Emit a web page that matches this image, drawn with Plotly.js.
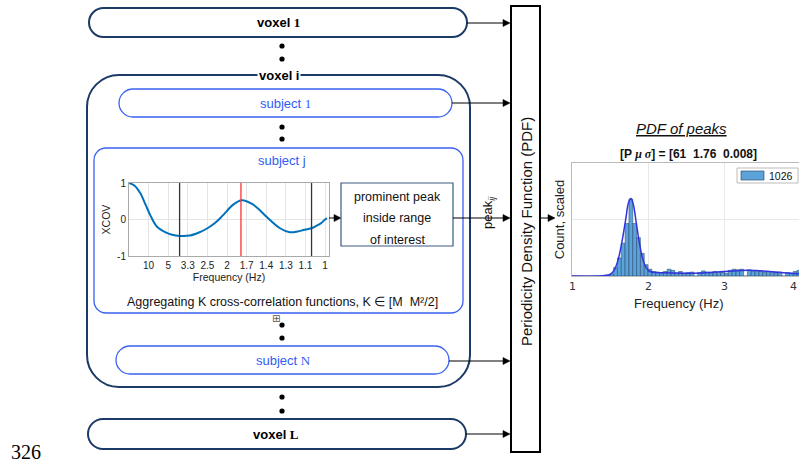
<!DOCTYPE html>
<html>
<head>
<meta charset="utf-8">
<script src="https://cdn.plot.ly/plotly-3.0.1.min.js"></script>
<style>html,body{margin:0;padding:0;background:#fff;}#chart{width:799px;height:463px;}</style>
</head>
<body>
<div id="chart"></div>
<script>
// ---------- XCOV panel data ----------
const lagSec = [0,0.03,0.058,0.085,0.11,0.143,0.19,0.22,0.26,0.31,0.36,0.40,0.44,0.48,0.53,0.575,0.63,0.67,0.70,0.77,0.82,0.86,0.89,0.93,0.96,0.98,1.0,1.01];
const xcovVals = [1,0.92,0.72,0.4,0.1,-0.2,-0.36,-0.42,-0.45,-0.44,-0.35,-0.24,-0.09,0.12,0.4,0.53,0.42,0.24,0.08,-0.24,-0.35,-0.33,-0.29,-0.24,-0.16,-0.1,0.0,0.03];
const xcovTickVals = [0.1,0.2,0.3,0.4,0.5,0.6,0.7,0.8,0.9,1.0];
const xcovTickText = ['10','5','3.3','2.5','2','1.7','1.4','1.3','1.1','1'];
const rangeLines = [0.258, 0.931];   // black: range of interest
const peakLine = [0.571];            // red: prominent peak

// ---------- PDF of peaks data ----------
const binStart = 1.02, binWidth = 0.05;
const peakCounts = [0,0,0,0,0,0,0,0,0,0.02,0.04,0.15,0.32,0.58,0.93,1.36,0.93,0.68,0.4,0.2,0.12,0.08,0.07,0.06,0.08,0.12,0.1,0.05,0.08,0.05,0.06,0.07,0,0.06,0.09,0.07,0.05,0.08,0.06,0.07,0.05,0.1,0.12,0.11,0.12,0,0.11,0.08,0.1,0.09,0.07,0.08,0.06,0.05,0.07,0,0.06,0.05,0.08,0.1];
const fitFreq = [1.0,1.4,1.5,1.55,1.6,1.65,1.7,1.74,1.77,1.8,1.84,1.88,1.92,1.97,2.02,2.1,2.3,2.5,2.7,2.9,3.1,3.3,3.5,3.7,3.9,4.0];
const fitVals = [0,0.005,0.03,0.1,0.27,0.58,0.98,1.3,1.37,1.28,0.95,0.6,0.33,0.15,0.08,0.06,0.055,0.05,0.055,0.07,0.09,0.1,0.09,0.065,0.045,0.04];
const histTicks = [1,2,3];
const histTickText = ['1','2','3'];
const histLastTick = '4';
const legendLabel = '1026';
const fitTitle = '[P <i style="font-family:Liberation Serif">μ σ</i>] = [61  1.76  0.008]';

// ---------- helpers (layout geometry only) ----------
function rr(x0,y0,x1,y1,r){const k=0.5523*r;
 return `M${x0+r},${y0} L${x1-r},${y0} C${x1-r+k},${y0} ${x1},${y0+r-k} ${x1},${y0+r} L${x1},${y1-r} C${x1},${y1-r+k} ${x1-r+k},${y1} ${x1-r},${y1} L${x0+r},${y1} C${x0+r-k},${y1} ${x0},${y1-r+k} ${x0},${y1-r} L${x0},${y0+r} C${x0},${y0+r-k} ${x0+r-k},${y0} ${x0+r},${y0} Z`;}
const shapes=[], ann=[];
const NAVY='#1b3a66', BLUE='#2f5cf5', SUBJ='#3a62f2';
function box(x0,y0,x1,y1,r,color,w){shapes.push({type:'path',xref:'x',yref:'y',path:rr(x0,y0,x1,y1,r),line:{color:color,width:w},fillcolor:'rgba(0,0,0,0)',layer:'above'});}
function arrow(x0,x1,y){shapes.push({type:'line',xref:'x',yref:'y',x0:x0,x1:x1-6,y0:y,y1:y,line:{color:'#000',width:1}});
 shapes.push({type:'path',xref:'x',yref:'y',path:`M${x1-7},${y-3.5} L${x1},${y} L${x1-7},${y+3.5} Z`,fillcolor:'#000',line:{color:'#000',width:0.5}});}
function dot(x,y){shapes.push({type:'circle',xref:'x',yref:'y',x0:x-2.6,x1:x+2.6,y0:y-2.6,y1:y+2.6,fillcolor:'#000',line:{width:0}});}
function txt(x,y,t,size,color,opts){ann.push(Object.assign({xref:'x',yref:'y',x:x,y:y,text:t,showarrow:false,font:{family:'Liberation Sans, Arial, sans-serif',size:size,color:color||'#000'},xanchor:'center',yanchor:'middle'},opts||{}));}
const SER = "<span style='font-family:Liberation Serif'>";

// voxel 1
box(89,8,467,37,14.5,NAVY,2);
txt(278,22,'<b>voxel '+SER+'1</span></b>',13);
arrow(467,510,23);
dot(282,46); dot(282,59);
// voxel i
box(87,75,470,387,32,NAVY,2);
txt(278.5,75,'<b>voxel i</b>',13,'#000',{bgcolor:'#fff',borderpad:1});
// subject 1
box(119,89,452,117,14,SUBJ,1.3);
txt(285,103,'subject '+SER+'1</span>',13,BLUE);
arrow(452,510,103);
dot(282,127); dot(282,139);
// subject j
box(94,148,463,313,12,SUBJ,1.3);
txt(282,160,'subject j',13,BLUE);
txt(282,302,'Aggregating K cross-correlation functions, K ∈ [M  M²/2]',12.5,'#111');
txt(276,318,'⊞',10,'#555',{font:{family:'DejaVu Sans',size:10,color:'#555'}});
dot(282,325); dot(282,338);
// subject N
box(116,346,449,374,14,SUBJ,1.3);
txt(283,360,'subject '+SER+'N</span>',13,BLUE);
arrow(449,510,361);
dot(282,397); dot(282,411);
// voxel L
box(88,419,466,449,15,NAVY,2);
txt(276,434,'<b>voxel '+SER+'L</span></b>',13);
arrow(466,510,434);
// peak box
arrow(329,341,218);
shapes.push({type:'rect',xref:'x',yref:'y',x0:341,x1:453,y0:183,y1:246,line:{color:'#3d5a80',width:1.2}});
txt(397,197,'prominent peak',12.5,'#111');
txt(397,218,'inside range',12.5,'#111');
txt(397,240,'of interest',12.5,'#111');
arrow(453,510,218);
txt(488,213,'peak<sub><i>ij</i></sub>',13,'#111',{textangle:-90});
// PDF box
shapes.push({type:'rect',xref:'x',yref:'y',x0:511,x1:540,y0:6,y1:452,line:{color:'#000',width:2}});
txt(526,232,'Periodicity Density Function (PDF)',15,'#111',{textangle:-90});
arrow(540,555,218);
// line number
txt(26,452,'326',20,'#000',{font:{family:'Liberation Serif, Times New Roman, serif',size:20,color:'#000'}});

// XCOV vertical markers
rangeLines.forEach(v=>shapes.push({type:'line',xref:'x2',yref:'y2 domain',x0:v,x1:v,y0:0,y1:1,line:{color:'#333',width:1.3}}));
peakLine.forEach(v=>shapes.push({type:'line',xref:'x2',yref:'y2 domain',x0:v,x1:v,y0:0,y1:1,line:{color:'#ff3030',width:1.3}}));

// histogram titles, tick labels and legend
txt(681,128,'<i><u>PDF of peaks</u></i>',15,'#111');
txt(688,154,'<b>'+fitTitle+'</b>',12,'#111');
histTicks.forEach((v,i)=>ann.push({xref:'x3',yref:'y',x:v,y:286,text:histTickText[i],showarrow:false,xanchor:'center',yanchor:'middle',font:{family:'DejaVu Sans',size:11,color:'#333'}}));
txt(799,286,histLastTick,11,'#333',{xanchor:'right',font:{family:'DejaVu Sans',size:11,color:'#333'}});
shapes.push({type:'rect',xref:'x',yref:'y',x0:737,x1:798,y0:168,y1:183,line:{color:'#aaa',width:0.8},fillcolor:'#fff'});
shapes.push({type:'rect',xref:'x',yref:'y',x0:741,x1:764,y0:171,y1:180,line:{color:'#1f3f66',width:0.6},fillcolor:'#5ba3d9'});
txt(767,175.5,legendLabel,10.5,'#111',{xanchor:'left'});
txt(679,303,'Frequency (Hz)',13,'#222');

const H=463, W=799;
const traces=[
 {x:[0],y:[0],xaxis:'x',yaxis:'y',mode:'markers',marker:{opacity:0},hoverinfo:'skip',showlegend:false},
 {x:lagSec,y:xcovVals,xaxis:'x2',yaxis:'y2',mode:'lines',line:{color:'#0072BD',width:2,shape:'spline'},showlegend:false},
 {type:'bar',x0:binStart,dx:binWidth,y:peakCounts,xaxis:'x3',yaxis:'y3',width:binWidth,marker:{color:'#5ba3d9',line:{color:'#1f3f66',width:0.5}},name:legendLabel,showlegend:false},
 {x:fitFreq,y:fitVals,xaxis:'x3',yaxis:'y3',mode:'lines',line:{color:'#3333dd',width:1.5,shape:'spline'},showlegend:false}
];
const layout={
 width:W,height:H,margin:{l:0,r:0,t:0,b:0},paper_bgcolor:'#fff',plot_bgcolor:'rgba(0,0,0,0)',
 showlegend:false,bargap:0,
 xaxis:{domain:[0,1],range:[0,W],visible:false,fixedrange:true},
 yaxis:{domain:[0,1],range:[H,0],visible:false,fixedrange:true},
 xaxis2:{domain:[129/W,329/W],range:[0,1.02],anchor:'y2',tickmode:'array',tickvals:xcovTickVals,ticktext:xcovTickText,
   showgrid:true,gridcolor:'#e4e4e4',showline:true,mirror:true,linecolor:'#aaa',linewidth:1,zeroline:false,
   ticks:'',tickfont:{family:'Liberation Sans',size:10,color:'#222'},
   title:{text:'Frequency (Hz)',font:{family:'Liberation Sans',size:10.5,color:'#222'},standoff:2}},
 yaxis2:{domain:[(H-256)/H,(H-183)/H],range:[-1,1],anchor:'x2',tickmode:'array',tickvals:[-1,0,1],ticktext:['-1','0','1'],
   showgrid:true,gridcolor:'#e4e4e4',showline:true,mirror:true,linecolor:'#aaa',linewidth:1,zeroline:false,
   ticks:'',tickfont:{family:'Liberation Sans',size:10,color:'#222'},
   title:{text:'XCOV',font:{family:'Liberation Sans',size:10.5,color:'#222'},standoff:4}},
 xaxis3:{domain:[572/W,1],range:[1,3.97],anchor:'y3',tickmode:'array',tickvals:[1,2,3],showticklabels:false,
   showgrid:true,gridcolor:'#e8e8e8',showline:true,mirror:true,linecolor:'#bbb',linewidth:1,zeroline:false,ticks:''},
 yaxis3:{domain:[(H-276)/H,(H-163)/H],range:[0,2],anchor:'x3',tickmode:'array',tickvals:[0,1,2],showticklabels:false,
   showgrid:true,gridcolor:'#e8e8e8',showline:true,mirror:true,linecolor:'#bbb',linewidth:1,zeroline:false,ticks:'',
   title:{text:'Count, scaled',font:{family:'Liberation Sans',size:13,color:'#222'},standoff:3}},
 shapes:shapes,annotations:ann
};
Plotly.newPlot('chart',traces,layout,{staticPlot:true,displayModeBar:false});
</script>
</body>
</html>
